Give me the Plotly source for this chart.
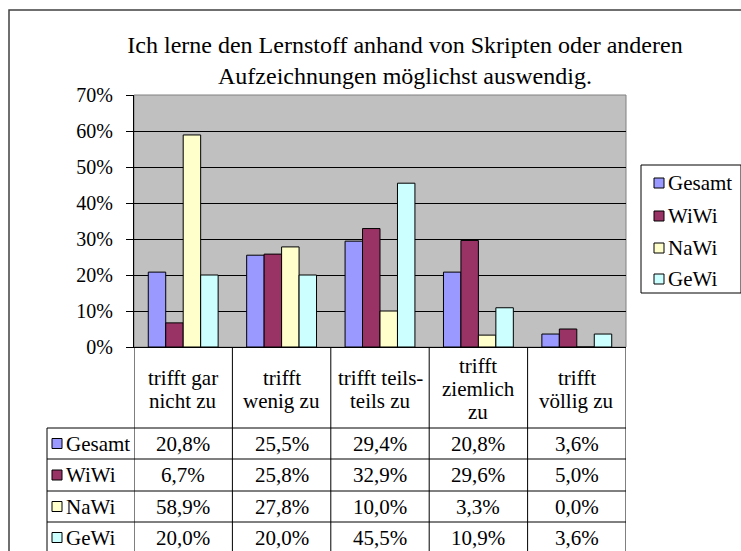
import plotly.graph_objects as go

categories = ["trifft gar<br>nicht zu", "trifft<br>wenig zu", "trifft teils-<br>teils zu",
              "trifft<br>ziemlich<br>zu", "trifft<br>völlig zu"]
series_names = ["Gesamt", "WiWi", "NaWi", "GeWi"]
gesamt = [20.8, 25.5, 29.4, 20.8, 3.6]
wiwi = [6.7, 25.8, 32.9, 29.6, 5.0]
nawi = [58.9, 27.8, 10.0, 3.3, 0.0]
gewi = [20.0, 20.0, 45.5, 10.9, 3.6]
series_values = [gesamt, wiwi, nawi, gewi]
colors = ["#9999FF", "#993366", "#FFFFCC", "#CCFFFF"]
y_ticks = [0, 10, 20, 30, 40, 50, 60, 70]
y_tick_labels = ["0%", "10%", "20%", "30%", "40%", "50%", "60%", "70%"]
title_text = "Ich lerne den Lernstoff anhand von Skripten oder anderen<br>Aufzeichnungen möglichst auswendig."

W, H = 741, 551
PL, PR, PT, PB = 134, 626, 95, 347
FONT = "Liberation Serif"


def px(x):
    return (x - PL) / (PR - PL)


def py(y):
    return (PB - y) / (PB - PT)


fig = go.Figure()
xs = list(range(len(categories)))
for name, vals, col in zip(series_names, series_values, colors):
    fig.add_trace(go.Bar(
        x=xs, y=vals, name=name,
        marker=dict(color=col, line=dict(color="black", width=1)),
        showlegend=False,
    ))

shapes = []
annotations = []
# outer chart border
shapes.append(dict(type="rect", xref="paper", yref="paper",
                   x0=px(9), x1=px(760), y0=py(10), y1=py(580),
                   line=dict(color="#404040", width=1.5), fillcolor="rgba(0,0,0,0)", layer="below"))
# plot area border
shapes.append(dict(type="rect", xref="paper", yref="paper", x0=0, x1=1, y0=0, y1=1,
                   line=dict(color="#808080", width=1), fillcolor="rgba(0,0,0,0)", layer="below"))

row_lines = [428, 459, 491, 522]
row_centers = [443.5, 475, 506.5, 537.5]
# vertical lines of data table
for i in range(len(categories) + 1):
    shapes.append(dict(type="line", xref="x", yref="paper", x0=i - 0.5, x1=i - 0.5,
                       y0=py(PB), y1=py(570), line=dict(color="black", width=1)))
shapes.append(dict(type="line", xref="paper", yref="paper", x0=px(47), x1=px(47),
                   y0=py(row_lines[0]), y1=py(570), line=dict(color="black", width=1)))
for r in row_lines:
    shapes.append(dict(type="line", xref="paper", yref="paper", x0=px(47), x1=1,
                       y0=py(r), y1=py(r), line=dict(color="black", width=1)))

# header cells
for i, cat in enumerate(categories):
    lines = cat.split("<br>")
    n = len(lines)
    for k, ln in enumerate(lines):
        yc = 389 + (k - (n - 1) / 2) * 23
        annotations.append(dict(x=i, y=py(yc), xref="x", yref="paper", text=ln,
                                showarrow=False, xanchor="center", yanchor="middle",
                                font=dict(family=FONT, size=21, color="black")))
# table rows
for r, (name, vals, col) in enumerate(zip(series_names, series_values, colors)):
    yc = row_centers[r]
    shapes.append(dict(type="rect", xref="paper", yref="paper",
                       x0=px(52), x1=px(62), y0=py(yc - 5), y1=py(yc + 5),
                       fillcolor=col, line=dict(color="black", width=1)))
    annotations.append(dict(x=px(64), y=py(yc), xref="paper", yref="paper", text=name,
                            showarrow=False, xanchor="left", yanchor="middle",
                            font=dict(family=FONT, size=21, color="black")))
    for i, v in enumerate(vals):
        annotations.append(dict(x=i, y=py(yc), xref="x", yref="paper",
                                text=f"{v:.1f}%".replace(".", ","),
                                showarrow=False, xanchor="center", yanchor="middle",
                                font=dict(family=FONT, size=21, color="black")))

# legend box
LX0, LX1, LY0, LY1 = 641, 741, 165, 293
shapes.append(dict(type="rect", xref="paper", yref="paper",
                   x0=px(LX0), x1=px(LX1), y0=py(LY0), y1=py(LY1),
                   line=dict(color="black", width=1), fillcolor="white"))
legend_y = [183, 216, 248, 279]
for name, col, yc in zip(series_names, colors, legend_y):
    shapes.append(dict(type="rect", xref="paper", yref="paper",
                       x0=px(654), x1=px(664), y0=py(yc - 5), y1=py(yc + 5),
                       fillcolor=col, line=dict(color="black", width=1)))
    annotations.append(dict(x=px(666), y=py(yc), xref="paper", yref="paper", text=name,
                            showarrow=False, xanchor="left", yanchor="middle",
                            font=dict(family=FONT, size=21, color="black")))

fig.update_layout(
    width=W, height=H,
    margin=dict(l=PL, r=W - PR, t=PT, b=H - PB, autoexpand=False),
    paper_bgcolor="white",
    plot_bgcolor="#C0C0C0",
    barmode="group",
    bargap=0.29,
    bargroupgap=0,
    title=dict(text=title_text, x=405 / W, xanchor="center", y=1 - 53 / H, yanchor="middle",
               xref="container", yref="container",
               font=dict(family=FONT, size=24, color="black")),
    xaxis=dict(range=[-0.5, len(categories) - 0.5], showticklabels=False, ticks="",
               showgrid=False, zeroline=False, showline=True, linecolor="black", linewidth=1,
               fixedrange=True),
    yaxis=dict(range=[0, 70], tickmode="array", tickvals=y_ticks, ticktext=y_tick_labels,
               ticks="outside", ticklen=7, ticklabelstandoff=9,
               tickcolor="black", showline=True, linecolor="black", linewidth=1,
               showgrid=True, gridcolor="black", gridwidth=1, zeroline=False,
               tickfont=dict(family=FONT, size=20, color="black")),
    shapes=shapes,
    annotations=annotations,
    showlegend=False,
)

fig.write_html("out.html", config={"displayModeBar": False},
               post_script="document.body.style.margin='0';document.body.style.overflow='hidden';")
